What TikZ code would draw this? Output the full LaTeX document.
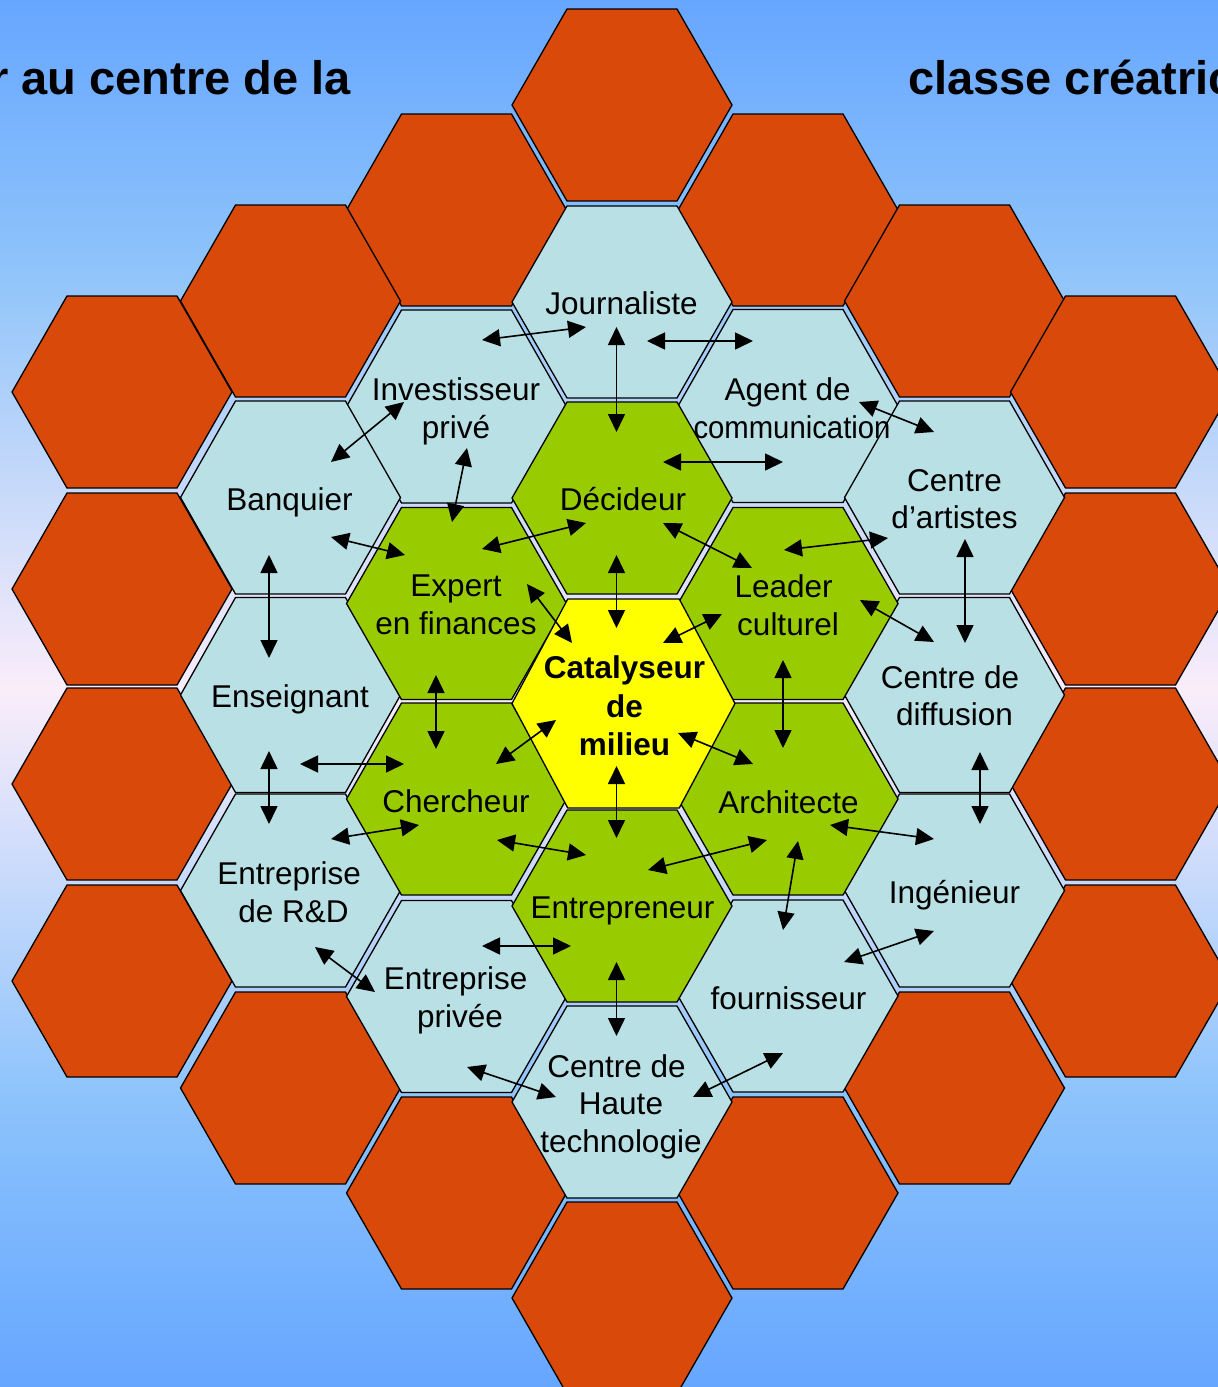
\documentclass[tikz,border=0pt]{standalone}
\usepackage{fontspec}
\usepackage{graphicx}
\setmainfont{Liberation Sans}
\usetikzlibrary{arrows.meta}
\definecolor{bgA}{RGB}{102,166,255}
\definecolor{bgB}{RGB}{143,196,250}
\definecolor{bgC}{RGB}{250,237,250}
\definecolor{bgD}{RGB}{140,195,252}
\definecolor{hexor}{RGB}{217,73,9}
\definecolor{hexbl}{RGB}{185,224,228}
\definecolor{hexgr}{RGB}{153,204,0}
\definecolor{hexye}{RGB}{255,255,0}
\pgfdeclareverticalshading{bgshade}{100bp}{color(0bp)=(bgA); color(25bp)=(bgA); color(35.35bp)=(bgD); color(50.1bp)=(bgC); color(65.3bp)=(bgB); color(75bp)=(bgA); color(100bp)=(bgA)}
\newcommand{\hexcell}[5]{\filldraw[hexline,fill=#1] ({#2-#4},{#3}) -- ({#2-#4/2},{#3-#5}) -- ({#2+#4/2},{#3-#5}) -- ({#2+#4},{#3}) -- ({#2+#4/2},{#3+#5}) -- ({#2-#4/2},{#3+#5}) -- cycle;}
\newcommand{\biarr}[3]{\coordinate (#1s) at (#2); \coordinate (#1e) at (#3); \draw[biarrow] (#1s) -- (#1e);}
\tikzset{
  hexline/.style={draw=black, line width=1.3pt, line join=miter},
  lbl/.style={font=\fontsize{31.5}{37.5}\selectfont, align=center, inner sep=0pt, text=black,
    execute at begin node=\strut, execute at end node=\strut},
  ttl/.style={font=\fontsize{47}{56}\selectfont\bfseries, inner sep=0pt, text=black},
  biarrow/.style={line width=1.6pt, black, arrows={Triangle[length=18pt,width=17pt]-Triangle[length=18pt,width=17pt]}}
}
\begin{document}
\begin{tikzpicture}[x=1pt,y=-1pt]
\useasboundingbox (0,0) rectangle (1218,1387);
\clip (0,0) rectangle (1218,1387);
\shade[shading=bgshade] (0,0) rectangle (1218,1387);
% titles
\node[ttl, anchor=base east] (ttlL) at (351,94) {r au centre de la};
\node[ttl, anchor=base west] (ttlR) at (908,94) {classe créatrice};
% orange ring
\hexcell{hexor}{622}{105}{110}{96}
\hexcell{hexor}{622}{1298}{110}{96}
\hexcell{hexor}{456.5}{210}{110}{96}
\hexcell{hexor}{456.5}{1193}{110}{96}
\hexcell{hexor}{788}{210}{110}{96}
\hexcell{hexor}{788}{1193}{110}{96}
\hexcell{hexor}{290.5}{301}{110}{96}
\hexcell{hexor}{290.5}{1088}{110}{96}
\hexcell{hexor}{954.5}{301}{110}{96}
\hexcell{hexor}{954.5}{1088}{110}{96}
\hexcell{hexor}{122}{392}{110}{96}
\hexcell{hexor}{122}{589}{110}{96}
\hexcell{hexor}{122}{784}{110}{96}
\hexcell{hexor}{122}{981}{110}{96}
\hexcell{hexor}{1120.5}{392}{110}{96}
\hexcell{hexor}{1120.5}{589}{110}{96}
\hexcell{hexor}{1120.5}{784}{110}{96}
\hexcell{hexor}{1120.5}{981}{110}{96}
% light blue ring
\hexcell{hexbl}{622}{302}{110}{96}
\hexcell{hexbl}{456.5}{406.5}{110}{96.5}
\hexcell{hexbl}{788}{406}{110}{96.5}
\hexcell{hexbl}{290.5}{497.5}{110}{96.5}
\hexcell{hexbl}{954.5}{497.5}{110}{96.5}
\hexcell{hexbl}{290.5}{695}{110}{97.5}
\hexcell{hexbl}{954.5}{695}{110}{97.5}
\hexcell{hexbl}{290.5}{890.5}{110}{96.5}
\hexcell{hexbl}{954.5}{890.5}{110}{96.5}
\hexcell{hexbl}{456.5}{996.5}{110}{96}
\hexcell{hexbl}{788}{996}{110}{96}
\hexcell{hexbl}{622}{1102}{110}{96}
% green ring
\hexcell{hexgr}{622}{498}{110}{96}
\hexcell{hexgr}{456.5}{603.5}{110}{96}
\hexcell{hexgr}{788}{603.5}{110}{96}
\hexcell{hexgr}{456.5}{799}{110}{96}
\hexcell{hexgr}{788}{799}{110}{96}
\hexcell{hexgr}{622}{906}{110}{96}
% centre
\hexcell{hexye}{623.5}{703.5}{111.5}{104.5}
% labels
\node[lbl] (journ) at (621.5,307) {Journaliste};
\node[lbl] (invest) at (456,413.5) {Investisseur\\privé};
\node[lbl] (agent) at (792,413.5) {Agent de\kern.28em\\\scalebox{0.93}[1]{communication}};
\node[lbl] (banq) at (289.5,503) {Banquier};
\node[lbl] (decid) at (623,503) {Décideur};
\node[lbl] (artist) at (954.5,504.5) {Centre\\d’artistes};
\node[lbl] (expert) at (456,610.5) {Expert\\en finances};
\node[lbl] (leader) at (788,610.5) {Leader\kern.28em\\culturel};
\node[lbl, font=\fontsize{31.5}{38.5}\selectfont\bfseries] (catal) at (624.5,711.5) {Catalyseur\\de\\milieu};
\node[lbl] (enseig) at (290,699.5) {Enseignant};
\node[lbl] (diffus) at (954.5,701) {Centre de\kern.28em\\diffusion};
\node[lbl] (cherch) at (456,805) {Chercheur};
\node[lbl] (archi) at (788.5,805.5) {Architecte};
\node[lbl] (rd) at (293.5,897.5) {Entreprise\kern.28em\\de R\&D};
\node[lbl] (ingen) at (954.5,896) {Ingénieur};
\node[lbl] (entrep) at (622.5,911) {Entrepreneur};
\node[lbl] (priv) at (460,1002.5) {Entreprise\kern.28em\\privée};
\node[lbl] (fourn) at (788.5,1001.5) {fournisseur};
\node[lbl] (haute) at (621,1109) {Centre de\kern.28em\\Haute\\technologie};
% arrows
\biarr{a1}{482,340}{586,327}
\biarr{a2}{616.5,327}{616.5,432}
\biarr{a3}{647,341}{753,341}
\biarr{a4}{331,462}{404,402}
\biarr{a5}{467,448}{452,522}
\biarr{a6}{859,402}{934,432}
\biarr{a7}{663,462}{783,462}
\biarr{a8}{482,549}{586,523}
\biarr{a9}{331,537}{405,555}
\biarr{a10}{663,523}{752,568}
\biarr{a11}{784,550}{888,538}
\biarr{a12}{616.5,555}{616.5,628}
\biarr{a13}{269,555}{269,658}
\biarr{a14}{965,539}{965,643}
\biarr{a15}{527,584}{572,643}
\biarr{a16}{663,643}{722,614}
\biarr{a17}{860,600}{934,642}
\biarr{a18}{436,675}{436,749}
\biarr{a19}{783,660}{783,748}
\biarr{a20}{496,764}{556,720}
\biarr{a21}{678,733}{753,764}
\biarr{a22}{300,764}{404,764}
\biarr{a23}{269,751}{269,824}
\biarr{a24}{980,752}{980,824}
\biarr{a25}{616.5,766}{616.5,838}
\biarr{a26}{331,839}{419,825}
\biarr{a27}{497,840}{586,855}
\biarr{a28}{648,870}{767,840}
\biarr{a29}{830,825}{934,839}
\biarr{a30}{798,841}{783,930}
\biarr{a31}{482,946}{571,946}
\biarr{a32}{844,962}{934,931}
\biarr{a33}{315,947}{375,992}
\biarr{a34}{616.5,962}{616.5,1036}
\biarr{a35}{467,1067}{556,1097}
\biarr{a36}{693,1097}{783,1053}
\end{tikzpicture}
\end{document}
